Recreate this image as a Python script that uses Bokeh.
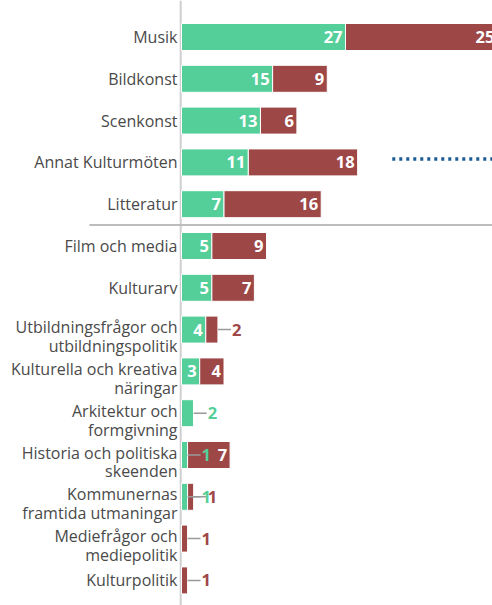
from bokeh.plotting import figure
from bokeh.models import Range1d, Span, ColumnDataSource
from bokeh.core.properties import value
from bokeh.embed import file_html
from bokeh.resources import INLINE

categories = ["Musik", "Bildkonst", "Scenkonst", "Annat Kulturmöten", "Litteratur",
              "Film och media", "Kulturarv", "Utbildningsfrågor och\nutbildningspolitik",
              "Kulturella och kreativa\nnäringar", "Arkitektur och\nformgivning",
              "Historia och politiska\nskeenden", "Kommunernas\nframtida utmaningar",
              "Mediefrågor och\nmediepolitik", "Kulturpolitik"]
green_vals = [27, 15, 13, 11, 7, 5, 5, 4, 3, 2, 1, 1, 0, 0]
red_vals = [25, 9, 6, 18, 16, 9, 7, 2, 4, 0, 7, 1, 1, 1]
separator_after = 4          # line between "Litteratur" and "Film och media"
ref_line_start = 34.7        # dotted marker on "Annat Kulturmöten" row
ref_line_row = 2.92

GREEN = "#55CF9A"
RED = "#9E4747"
LABEL = "#4A4A4A"

W, H = 492, 605
px_per_unit = 164 / 27
x0 = -181 / px_per_unit
x1 = x0 + W / px_per_unit
row_px = 41.8
y_top = -36.5 / row_px
y_bot = (H - 36.5) / row_px

p = figure(width=W, height=H, output_backend="svg", toolbar_location=None,
           x_range=Range1d(x0, x1), y_range=Range1d(y_bot, y_top),
           min_border=0, outline_line_color=None)
p.xaxis.visible = False
p.yaxis.visible = False
p.xgrid.visible = False
p.ygrid.visible = False
p.background_fill_color = "white"
p.border_fill_color = "white"

n = len(categories)
ys = list(range(n))

p.add_layout(Span(location=-0.13, dimension="height", line_color="#CFCFCF",
                  line_width=2, level="underlay"))

# separator
p.segment(x0=[-15.15], y0=[separator_after + 0.5], x1=[x1], y1=[separator_after + 0.5],
          line_color="#BDBDBD", line_width=2)

# dotted marker
p.segment(x0=[ref_line_start], y0=[ref_line_row], x1=[x1], y1=[ref_line_row],
          line_color="#1B5C96", line_width=3.5, line_dash="3 4")

bh = 27 / row_px
src = ColumnDataSource(dict(y=ys, g=green_vals, r=[g + r for g, r in zip(green_vals, red_vals)]))
p.hbar(y="y", left=0, right="g", height=bh, source=src, fill_color=GREEN,
       line_color="white", line_width=1)
p.hbar(y="y", left="g", right="r", height=bh, source=src, fill_color=RED,
       line_color="white", line_width=1)

# category labels (single-line centred, two-line slightly lowered)
single = [i for i in ys if "\n" not in categories[i]]
double = [i for i in ys if "\n" in categories[i]]
p.text(x=[0] * len(single), y=single, text=[categories[i] for i in single],
       text_align="right", text_baseline="middle", x_offset=-4,
       text_font=value("Open Sans"), text_font_size="16px", text_color=LABEL)
p.text(x=[0] * len(double), y=double, text=[categories[i] for i in double],
       text_align="right", text_baseline="middle", x_offset=-4, y_offset=7,
       text_font=value("Open Sans"), text_font_size="16px", text_color=LABEL,
       text_line_height=0.86)

# value labels
in_x, in_y, in_t = [], [], []
out_x, out_y, out_t, out_c = [], [], [], []
lead_x0, lead_x1, lead_y = [], [], []
lead_len = 13 / px_per_unit
for i in range(n):
    segs = [(green_vals[i], green_vals[i], GREEN),
            (red_vals[i], green_vals[i] + red_vals[i], RED)]
    for v, end, col in segs:
        if v <= 0:
            continue
        if v >= 3:
            in_x.append(end); in_y.append(i); in_t.append(str(v))
        else:
            out_x.append(end); out_y.append(i); out_t.append(str(v)); out_c.append(col)
            lead_x0.append(end); lead_x1.append(end + lead_len); lead_y.append(i)

p.segment(x0=lead_x0, y0=lead_y, x1=lead_x1, y1=lead_y, line_color="#9A9A9A", line_width=1.5)
p.text(x=in_x, y=in_y, text=in_t, text_align="right", text_baseline="middle",
       x_offset=-3, text_font=value("Open Sans"), text_font_style="bold",
       text_font_size="16.5px", text_color="white")
p.text(x=out_x, y=out_y, text=out_t, text_align="left", text_baseline="middle",
       x_offset=14, text_font=value("Open Sans"), text_font_style="bold",
       text_font_size="16.5px", text_color=out_c)

open("out.html", "w").write(file_html(p, INLINE))
